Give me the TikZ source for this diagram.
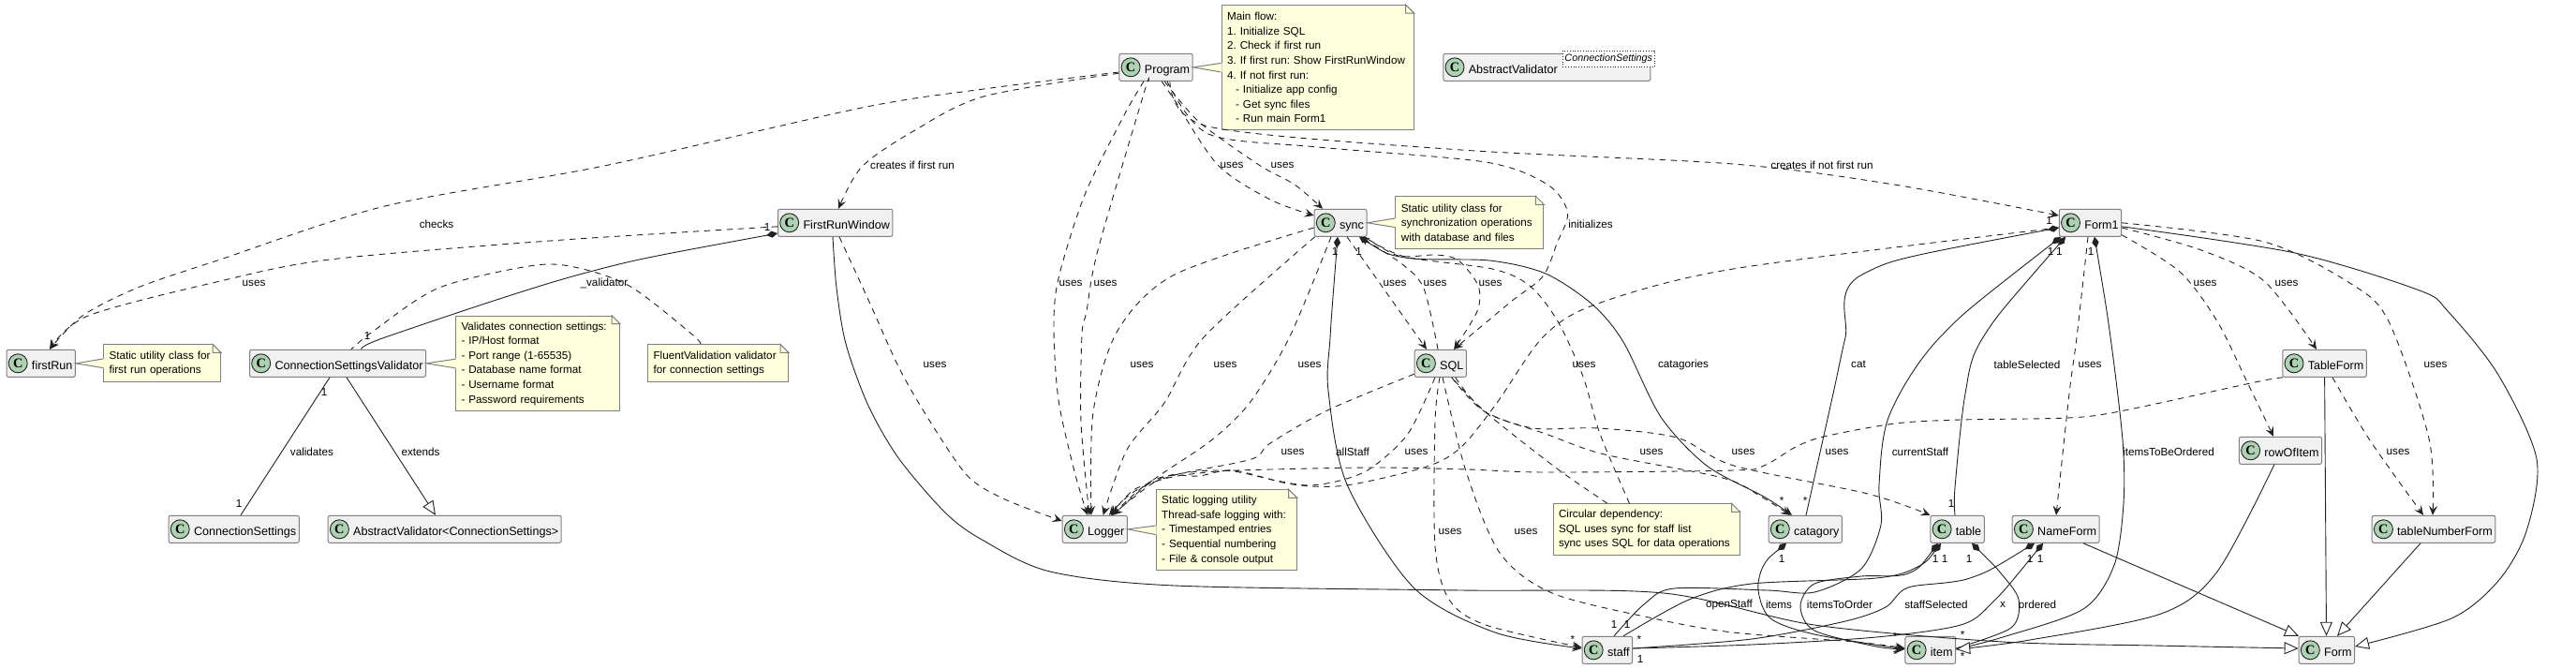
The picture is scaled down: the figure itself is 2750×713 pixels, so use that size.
\documentclass[tikz,border=0pt]{standalone}
\usepackage{fontspec}
\setmainfont{Liberation Sans}
\newfontfamily\spotfont{Liberation Serif}
\usetikzlibrary{arrows.meta,calc}

\definecolor{classfill}{HTML}{F1F1F1}
\definecolor{classedge}{HTML}{808080}
\definecolor{spotfill}{HTML}{ADD1B2}
\definecolor{notefill}{HTML}{FEFFDD}
\definecolor{lineink}{HTML}{222222}

\tikzset{
  classspot/.style={circle, draw=lineink, fill=spotfill, line width=0.45pt, inner sep=0pt,
    minimum size=10pt, font=\spotfont\bfseries\fontsize{7.2}{8}\selectfont},
  classbox/.style={draw=classedge, fill=classfill, rounded corners=1pt, line width=0.5pt,
    anchor=west, inner xsep=1.5pt, inner ysep=0pt, text height=10.35pt, text depth=4.15pt,
    font=\fontsize{6.3}{7.8}\selectfont, execute at begin node={\hspace*{12pt}},
    append after command={node[classspot] at ([xshift=6.35pt]\tikzlastnode.west) {C}}},
  genericbox/.style={draw=lineink, densely dotted, fill=white, line width=0.4pt, inner xsep=1pt,
    inner ysep=0pt, minimum width=48pt, minimum height=8.6pt, font=\itshape\fontsize{5.4}{6}\selectfont},
  notebox/.style={draw=classedge, fill=notefill, line width=0.5pt, anchor=north west, align=left,
    inner xsep=3pt, inner ysep=0pt, execute at begin node={\frenchspacing}},
  notelink/.style={draw=classedge, line width=0.5pt},
  edgelabel/.style={inner sep=0pt},
  dep/.style={lineink, line width=0.45pt, dash pattern=on 3.2pt off 2.8pt},
  deparrow/.style={dep, -{Stealth[length=5pt,width=4.5pt,inset=2pt]}},
  assoc/.style={lineink, line width=0.45pt},
  comp/.style={assoc, {Diamond[length=6pt,width=3.6pt]}-},
  comparrow/.style={assoc, {Diamond[length=6pt,width=3.6pt]}-{Stealth[length=5pt,width=4.5pt,inset=2pt]}},
  extends/.style={assoc, -{Triangle[open,length=7.5pt,width=6.5pt,fill=white]}},
}

% dog-ear of a note
\newcommand{\notefold}[1]{
  \fill[white] ([xshift=-4.5pt]#1.north east) -- ([xshift=.6pt,yshift=.6pt]#1.north east) -- ([yshift=-4.5pt]#1.north east) -- cycle;
  \draw[notelink] ([xshift=-4.5pt]#1.north east) -- ([xshift=-4.5pt,yshift=-4.5pt]#1.north east) -- ([yshift=-4.5pt]#1.north east) -- cycle;
}
% wedge from a class to its note
\newcommand{\notetail}[2]{
  \fill[notefill] (#1.east) -- ([xshift=.5pt,yshift=2.4pt]#2.west) -- ([xshift=.5pt,yshift=-2.4pt]#2.west) -- cycle;
  \draw[notelink] ([yshift=2.4pt]#2.west) -- (#1.east) -- ([yshift=-2.4pt]#2.west);
}

\begin{document}
\begin{tikzpicture}[x=0.5pt, y=-0.5pt, font=\fontsize{5.85}{7.8}\selectfont]
  \useasboundingbox (0,0) rectangle (2750,713);

  % classes
  \node[classbox] (firstRun) at (6.5,387.8) {firstRun};
  \node[classbox] (ConnectionSettingsValidator) at (266,387.8) {ConnectionSettingsValidator};
  \node[classbox] (ConnectionSettings) at (179.5,564.8) {ConnectionSettings};
  \node[classbox] (AbstractValidatorCS) at (349.7,564.8) {AbstractValidator<ConnectionSettings>};
  \node[classbox] (FirstRunWindow) at (830,237.8) {FirstRunWindow};
  \node[classbox] (Program) at (1194.4,71.8) {Program};
  \node[classbox] (AbstractValidator) at (1540.3,71.8) {AbstractValidator\hspace*{48pt}};
  \node[genericbox] (validatorArg) at (1717.3,62.7) {ConnectionSettings};
  \node[classbox] (sync) at (1402.6,237.8) {sync};
  \node[classbox] (Form1) at (2197.8,237.8) {Form1};
  \node[classbox] (SQL) at (1509.7,387.8) {SQL};
  \node[classbox] (TableForm) at (2436.3,387.8) {TableForm};
  \node[classbox] (rowOfItem) at (2389.9,480.8) {rowOfItem};
  \node[classbox] (Logger) at (1133.7,564.8) {Logger};
  \node[classbox] (catagory) at (1887.6,564.8) {catagory};
  \node[classbox] (table) at (2060.4,564.8) {table};
  \node[classbox] (NameForm) at (2147.7,564.8) {NameForm};
  \node[classbox] (tableNumberForm) at (2531.7,564.8) {tableNumberForm};
  \node[classbox] (staff) at (1688.5,693.8) {staff};
  \node[classbox] (item) at (2033.4,693.8) {item};
  \node[classbox] (Form) at (2453.6,693.8) {Form};

  % notes
  \node[notebox, text width=56.5pt, minimum height=20pt] (noteFirstRun) at (110,367.3) {Static utility class for\\first run operations};
  \node[notebox, text width=81.5pt, minimum height=50.8pt] (noteValidator) at (486,336.7) {Validates connection settings:\\- IP/Host format\\- Port range (1-65535)\\- Database name format\\- Username format\\- Password requirements};
  \node[notebox, text width=69pt, minimum height=20pt] (noteFluent) at (691,367.3) {FluentValidation validator\\for connection settings};
  \node[notebox, text width=96.5pt, minimum height=66.65pt] (noteProgram) at (1303.6,5) {Main flow:\\1. Initialize SQL\\2. Check if first run\\3. If first run: Show FirstRunWindow\\4. If not first run:\\\hspace*{4.5pt}- Initialize app config\\\hspace*{4.5pt}- Get sync files\\\hspace*{4.5pt}- Run main Form1};
  \node[notebox, text width=73pt, minimum height=28pt] (noteSync) at (1489.3,209.3) {Static utility class for\\synchronization operations\\with database and files};
  \node[notebox, text width=69pt, minimum height=43pt] (noteLogger) at (1233.7,522.3) {Static logging utility\\Thread-safe logging with:\\- Timestamped entries\\- Sequential numbering\\- File \& console output};
  \node[notebox, text width=93.5pt, minimum height=27.5pt] (noteCircular) at (1657.5,537.3) {Circular dependency:\\SQL uses sync for staff list\\sync uses SQL for data operations};
  \notefold{noteFirstRun} \notefold{noteValidator} \notefold{noteFluent} \notefold{noteProgram}
  \notefold{noteSync} \notefold{noteLogger} \notefold{noteCircular}
  \notetail{firstRun}{noteFirstRun}
  \notetail{ConnectionSettingsValidator}{noteValidator}
  \notetail{Program}{noteProgram}
  \notetail{sync}{noteSync}
  \notetail{Logger}{noteLogger}

  % dependencies from Program
  \draw[deparrow] plot[smooth] coordinates {([yshift=-2.6pt]Program.west) (1050,95) (920,115) (645,177) (411,220) (235,277) (147,307) (88,337) ([xshift=23.25pt]firstRun.north west)};
  \draw[deparrow] plot[smooth] coordinates {([yshift=-3.2pt]Program.west) (1050,103) (975,140) (920,178) ([xshift=32.5pt]FirstRunWindow.north west)};
  \draw[deparrow] plot[smooth] coordinates {([xshift=13.3pt]Program.south west) (1200,123) (1158,208) (1130,297) (1125,350) (1130,427) (1147,503) ([xshift=13.6pt]Logger.north west)};
  \draw[deparrow] plot[smooth] coordinates {([xshift=15.8pt]Program.south west) (1221,100) (1172,267) (1160,332) (1155,357) (1154,450) ([xshift=14.6pt]Logger.north west)};
  \draw[deparrow] plot[smooth] coordinates {([xshift=22.9pt]Program.south west) (1254,107) (1300,176) (1356,213) ([yshift=3.9pt]sync.west)};
  \draw[deparrow] plot[smooth] coordinates {([xshift=24.4pt]Program.south west) (1280,130) (1344,176) (1382,197) ([xshift=4.7pt]sync.north west)};
  \draw[deparrow] plot[smooth] coordinates {([xshift=25.8pt]Program.south west) (1290,143) (1407,157) (1586,173) (1652,197) (1673.5,227) (1662,260) (1647,295) (1613,322) ([xshift=21.2pt]SQL.north west)};
  \draw[deparrow] plot[smooth] coordinates {([xshift=27.3pt]Program.south west) (1290,135) (1560,160) (1850,175) (2022,197) ([yshift=3.9pt]Form1.west)};

  % FirstRunWindow and validator
  \draw[deparrow] plot[smooth] coordinates {([yshift=-2pt]FirstRunWindow.west) (587,257) (352,277) (235,300) (94,337) ([xshift=23.25pt]firstRun.north west)};
  \draw[comp] plot[smooth] coordinates {([yshift=-5.6pt]FirstRunWindow.west) (622,292) (414,359) ([xshift=60pt]ConnectionSettingsValidator.north west)};
  \draw[dep] plot[smooth] coordinates {([xshift=28.5pt]noteFluent.north west) (739,357) (675,307) (622,287) (572,283) (469,307) (399,353) ([xshift=54.5pt]ConnectionSettingsValidator.north west)} ;
  \draw[assoc] ([xshift=43pt]ConnectionSettingsValidator.south west) -- ([xshift=38.75pt]ConnectionSettings.north west);
  \draw[extends] ([xshift=52pt]ConnectionSettingsValidator.south west) -- ([xshift=57.65pt]AbstractValidatorCS.north west);
  \draw[deparrow] plot[smooth] coordinates {([xshift=33pt]FirstRunWindow.south west) (927,320) (960,393) (993,450) (1033,508) (1073,533) ([yshift=4.4pt]Logger.west)};
  \draw[extends] plot[smooth] coordinates {([xshift=29.5pt]FirstRunWindow.south west) (893,307) (903,367) (927,433) (960,490) (1010,548) (1050,577) (1121,610) (1254,625) (1560,630) (1776,633) (1937,667) (2138,685) (2300,689) ([yshift=.9pt]Form.west)};

  % dependencies from sync
  \draw[deparrow] plot[smooth] coordinates {([yshift=-2.6pt]sync.west) (1254,293) (1193,353) (1167,440) ([xshift=15.6pt]Logger.north west)};
  \draw[deparrow] plot[smooth] coordinates {([xshift=.5pt]sync.south west) (1285,360) (1243,430) (1203,480) ([xshift=22pt]Logger.north west)};
  \draw[deparrow] plot[smooth] coordinates {([xshift=9.2pt]sync.south west) (1376.5,360) (1334,430) (1293,470) (1230,513) ([xshift=27.15pt]Logger.north west)};
  \draw[deparrow] plot[smooth] coordinates {([xshift=17.7pt]sync.south west) (1477,308) ([xshift=6.65pt]SQL.north west)};
  \draw[deparrow] plot[smooth] coordinates {([xshift=12.65pt]SQL.north west) (1520,308) (1497,282) ([xshift=24.7pt]sync.south west)};
  \draw[deparrow] plot[smooth] coordinates {([xshift=27pt]sync.south west) (1493,273) (1533,272) (1557,278) (1578,305) (1577,332) ([xshift=21.2pt]SQL.north west)};
  \draw[dep] plot[smooth] coordinates {([xshift=41pt]noteCircular.north west) (1708,463) (1690,402) (1663,343) (1633,305) (1593,287) (1500,274) ([xshift=27pt]sync.south west)};
  \draw[dep] plot[smooth] coordinates {([xshift=29.25pt]noteCircular.north west) (1662,500) (1586,440) ([xshift=20pt]SQL.south west)};
  \draw[comparrow] plot[smooth] coordinates {([xshift=12.7pt]sync.south west) (1420,360) (1418,417) (1438,517) (1509,627) (1596,675) ([yshift=.9pt]staff.west)};
  \draw[comparrow] plot[smooth] coordinates {([xshift=24.2pt]sync.south west) (1500,275) (1590,278) (1650,292) (1700,325) (1733,365) (1773,445) (1822,497) (1883,530) ([xshift=12.7pt]catagory.north west)};

  % dependencies into Logger from afar
  \draw[deparrow] plot[smooth] coordinates {([yshift=-2.6pt]Form1.west) (1850,287) (1703,325) (1647,360) (1598,430) (1560,477) (1523,498) (1437,518) (1380,517) (1317,502) (1280,508) (1240,510) ([xshift=26.65pt]Logger.north west)};
  \draw[deparrow] plot[smooth] coordinates {([xshift=.3pt]TableForm.south west) (2407,408) (2263,439) (2207,446) (2093,448) (2023,452) (1947,466) (1917,477) (1883,497) (1850,502) (1650,504) (1567,501) (1463,499) (1320,502) (1280,505) (1247,510) (1210,523) ([xshift=26.15pt]Logger.north west)};
  \draw[deparrow] plot[smooth] coordinates {([yshift=-5.7pt]SQL.west) (1417,438) (1356,473) (1336,490) (1254,507) (1210,525) ([xshift=25.15pt]Logger.north west)};
  \draw[deparrow] plot[smooth] coordinates {([xshift=11.15pt]SQL.south west) (1503,463) (1463,500) (1430,513) (1397,518) (1363,513) (1317,503) (1280,503) (1230,513) ([xshift=26.65pt]Logger.north west)};

  % dependencies from SQL
  \draw[deparrow] plot[smooth] coordinates {([xshift=13.65pt]SQL.south west) (1532,450) (1532,583) (1547,640) (1586,667) ([yshift=1.4pt]staff.west)};
  \draw[deparrow] plot[smooth] coordinates {([xshift=15.15pt]SQL.south west) (1565,503) (1601,590) (1657,633) (1765,660) (1850,675) (1980,685) ([yshift=1pt]item.west)};
  \draw[deparrow] plot[smooth] coordinates {([xshift=20pt]SQL.south west) (1583,438) (1637,457) (1706,457) (1790,467) (1851,497) (1994,527) (table.north west)};
  \draw[deparrow] plot[smooth] coordinates {([xshift=22pt]SQL.south west) (1586,440) (1650,463) (1713,485) (1839,510) (1880,530) ([xshift=11.7pt]catagory.north west)};

  % Form1
  \draw[comp] plot[smooth] coordinates {([yshift=-2.6pt]Form1.west) (1988,293) (1970,360) (1957,420) ([xshift=20.2pt]catagory.north west)};
  \draw[comp] plot[smooth] coordinates {([xshift=3.6pt]Form1.south west) (2117,360) (2098,420) (2087,520) ([xshift=13.3pt]table.north west)};
  \draw[comp] plot[smooth] coordinates {([xshift=1.1pt]Form1.south west) (2071,360) (2017,443) (2006,517) (2008,560) (1987,607) (1937,632) (1887,630) (1787,628) (1755,645) ([xshift=17.25pt]staff.north west)};
  \draw[comp] plot[smooth] coordinates {([xshift=19.1pt]Form1.south west) (2253,360) (2266,470) (2267,537) (2257,603) (2224,650) (2138,680) ([yshift=.4pt]item.east)};
  \draw[extends] plot[smooth] coordinates {([yshift=-2pt]Form1.east) (2450,270) (2583,310) (2613,332) (2667,400) (2708,490) (2697,567) (2667,620) (2617,660) ([yshift=1.9pt]Form.east)};
  \draw[deparrow] plot[smooth] coordinates {(Form1.east) (2417,258) (2510,303) (2550,343) (2593,468) ([xshift=32.65pt]tableNumberForm.north west)};
  \draw[deparrow] plot[smooth] coordinates {([yshift=-2.6pt]Form1.east) (2350,267) (2417,300) ([xshift=18.35pt]TableForm.north west)};
  \draw[deparrow] plot[smooth] coordinates {([yshift=-6.5pt]Form1.east) (2327,290) (2367,343) (2400,410) ([xshift=18.55pt]rowOfItem.north west)};
  \draw[deparrow] plot[smooth] coordinates {([xshift=15.6pt]Form1.south west) (2217,360) (2209,420) ([xshift=23.65pt]NameForm.north west)};
  \draw[deparrow] plot[smooth] coordinates {([xshift=26.85pt]TableForm.south west) (2530,470) ([xshift=27.65pt]tableNumberForm.north west)};

  % bottom row
  \draw[comp] plot[smooth] coordinates {([xshift=5.8pt]table.south west) (2047,605) (2003,617) (1870,623) (1803,640) ([xshift=22.25pt]staff.north west)};
  \draw[comparrow] plot[smooth] coordinates {([xshift=4.3pt]table.south west) (2037,612) (1987,615) (1937,623) (1922,647) (1937,673) (2003,690) ([yshift=.5pt]item.west)};
  \draw[comparrow] plot[smooth] coordinates {([xshift=9.7pt]catagory.south west) (1883,603) (1877,630) (1890,660) (1937,677) ([yshift=.5pt]item.west)};
  \draw[comp] plot[smooth] coordinates {([xshift=22.3pt]table.south west) (2137,613) (2155,640) (2147,670) ([yshift=1pt]item.east)};
  \draw[comp] plot[smooth] coordinates {([xshift=12.15pt]NameForm.south west) (2103,617) (2037,627) (2013,648) (1970,663) (1870,682) ([yshift=.9pt]staff.east)};
  \draw[comp] plot[smooth] coordinates {([xshift=16.65pt]NameForm.south west) (2127,643) (2093,667) (2003,680) (1870,688) ([yshift=.9pt]staff.east)};
  \draw[extends] plot[smooth] coordinates {([xshift=19pt]rowOfItem.south west) (2367,610) (2307,655) (2167,683) ([yshift=.4pt]item.east)};
  \draw[extends] ([xshift=38.15pt]NameForm.south west) -- ([xshift=.2pt]Form.north west);
  \draw[extends] ([xshift=22.65pt]TableForm.south west) -- ([xshift=14.95pt]Form.north west);
  \draw[extends] ([xshift=26.15pt]tableNumberForm.south west) -- ([xshift=20.7pt]Form.north west);

  % labels
  \node[edgelabel] (lblChecks) at (466,239) {checks};
  \node[edgelabel] (lblFirstRun) at (974,176) {creates if first run};
  \node[edgelabel] (lblNotFirstRun) at (1945,176) {creates if not first run};
  \node[edgelabel] (lblInitializes) at (1698,239) {initializes};
  \node[edgelabel] (lblValidator) at (645,302) {\_validator};
  \node[edgelabel] (lblValidates) at (333,482) {validates};
  \node[edgelabel] (lblExtends) at (449,482) {extends};
  \node[edgelabel] (lblAllStaff) at (1444,482) {allStaff};
  \node[edgelabel] (lblCatagories) at (1797,389) {catagories};
  \node[edgelabel] (lblCat) at (1984,389) {cat};
  \node[edgelabel] (lblTableSelected) at (2164,389) {tableSelected};
  \node[edgelabel] (lblCurrentStaff) at (2050,482) {currentStaff};
  \node[edgelabel] (lblToBeOrdered) at (2315,482) {itemsToBeOrdered};
  \node[edgelabel] (lblOpenStaff) at (1846,645) {openStaff};
  \node[edgelabel] (lblItems) at (1899,645) {items};
  \node[edgelabel] (lblToOrder) at (1964,645) {itemsToOrder};
  \node[edgelabel] (lblStaffSelected) at (2067,645) {staffSelected};
  \node[edgelabel] (lblX) at (2138,645) {x};
  \node[edgelabel] (lblOrdered) at (2175,645) {ordered};
  \node[edgelabel] (usesA) at (271,302) {uses};
  \node[edgelabel] (usesB) at (998,389) {uses};
  \node[edgelabel] (usesC) at (1315,176) {uses};
  \node[edgelabel] (usesD) at (1369,176) {uses};
  \node[edgelabel] (usesE) at (1143,302) {uses};
  \node[edgelabel] (usesF) at (1180,302) {uses};
  \node[edgelabel] (usesG) at (1489,302) {uses};
  \node[edgelabel] (usesH) at (1532,302) {uses};
  \node[edgelabel] (usesI) at (1591,302) {uses};
  \node[edgelabel] (usesJ) at (2354,302) {uses};
  \node[edgelabel] (usesK) at (2441,302) {uses};
  \node[edgelabel] (usesL) at (1219,389) {uses};
  \node[edgelabel] (usesM) at (1308,389) {uses};
  \node[edgelabel] (usesN) at (1398,389) {uses};
  \node[edgelabel] (usesO) at (1691,389) {uses};
  \node[edgelabel] (usesP) at (2231,389) {uses};
  \node[edgelabel] (usesQ) at (2600,389) {uses};
  \node[edgelabel] (usesR) at (1380,482) {uses};
  \node[edgelabel] (usesS) at (1512,482) {uses};
  \node[edgelabel] (usesT) at (1763,482) {uses};
  \node[edgelabel] (usesU) at (1861,482) {uses};
  \node[edgelabel] (usesV) at (1961,482) {uses};
  \node[edgelabel] (usesW) at (2560,482) {uses};
  \node[edgelabel] (usesX) at (1548,567) {uses};
  \node[edgelabel] (usesY) at (1629,567) {uses};

  % multiplicities
  \node[edgelabel] (oneA) at (819,242) {1};
  \node[edgelabel] (oneB) at (392,358) {1};
  \node[edgelabel] (oneC) at (346,418) {1};
  \node[edgelabel] (oneD) at (255,537) {1};
  \node[edgelabel] (oneE) at (1425,268) {1};
  \node[edgelabel] (oneF) at (1450.5,268) {1};
  \node[edgelabel] (oneG) at (2187.5,235) {1};
  \node[edgelabel] (oneH) at (2189,268) {1};
  \node[edgelabel] (oneI) at (2198.4,268) {1};
  \node[edgelabel] (oneJ) at (2232,268) {1};
  \node[edgelabel] (oneK) at (2083,537) {1};
  \node[edgelabel] (oneL) at (1902,596) {1};
  \node[edgelabel] (oneM) at (2066,596) {1};
  \node[edgelabel] (oneN) at (2076,596) {1};
  \node[edgelabel] (oneO) at (2102,596) {1};
  \node[edgelabel] (oneP) at (2167,596) {1};
  \node[edgelabel] (oneQ) at (2178,596) {1};
  \node[edgelabel] (oneR) at (1723,666) {1};
  \node[edgelabel] (oneS) at (1737,666) {1};
  \node[edgelabel] (oneT) at (1751,703) {1};
  \node[edgelabel] (manyA) at (1902,534) {*};
  \node[edgelabel] (manyB) at (1927,534) {*};
  \node[edgelabel] (manyC) at (1679,682) {*};
  \node[edgelabel] (manyD) at (1750,682) {*};
  \node[edgelabel] (manyE) at (2023,679) {*};
  \node[edgelabel] (manyF) at (2023,698) {*};
  \node[edgelabel] (manyG) at (2095,677) {*};
  \node[edgelabel] (manyH) at (2095,700) {*};
\end{tikzpicture}
\end{document}
